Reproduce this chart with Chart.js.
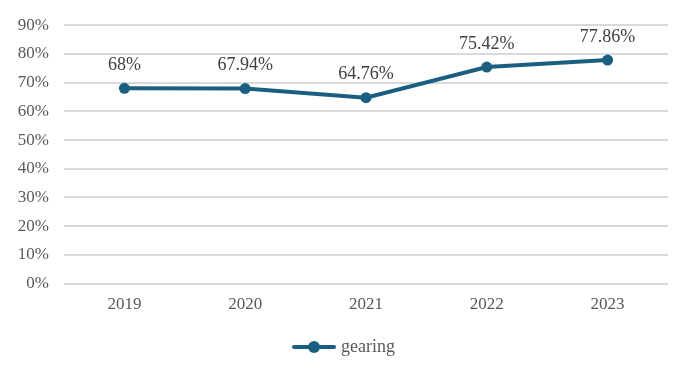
<!DOCTYPE html>
<html>
<head>
<meta charset="utf-8">
<script src="https://cdn.jsdelivr.net/npm/chart.js@4/dist/chart.umd.min.js"></script>
<style>
  html, body { margin: 0; padding: 0; background: #fff; }
  #wrap { width: 691px; height: 375px; }
</style>
</head>
<body>
<div id="wrap"><canvas id="gearingChart" width="691" height="375"></canvas></div>
<script>
var years = ['2019', '2020', '2021', '2022', '2023'];
var gearing = [68, 67.94, 64.76, 75.42, 77.86];
var gearingLabels = ['68%', '67.94%', '64.76%', '75.42%', '77.86%'];

var lineColor = '#1b5f80';
var font = '"Liberation Serif", "Times New Roman", serif';

// legend marker: line with dot
var marker = document.createElement('canvas');
marker.width = 44; marker.height = 14;
var mctx = marker.getContext('2d');
mctx.strokeStyle = lineColor;
mctx.lineWidth = 4;
mctx.lineCap = 'round';
mctx.beginPath(); mctx.moveTo(2, 7); mctx.lineTo(42, 7); mctx.stroke();
mctx.fillStyle = lineColor;
mctx.beginPath(); mctx.arc(22, 7, 6, 0, Math.PI * 2); mctx.fill();

var labelPlugin = {
    id: 'valueLabels',
    afterDatasetsDraw: function(chart) {
        var ctx = chart.ctx;
        var meta = chart.getDatasetMeta(0);
        ctx.save();
        ctx.font = '18px ' + font;
        ctx.fillStyle = '#404040';
        ctx.textAlign = 'center';
        ctx.textBaseline = 'middle';
        meta.data.forEach(function(pt, i) {
            ctx.fillText(gearingLabels[i], pt.x, pt.y - 23);
        });
        ctx.restore();
    }
};

var ctx = document.getElementById('gearingChart').getContext('2d');
var chart = new Chart(ctx, {
    type: 'line',
    data: {
        labels: years,
        datasets: [{
            label: 'gearing',
            data: gearing,
            borderColor: lineColor,
            backgroundColor: lineColor,
            borderWidth: 4,
            pointRadius: 5.5,
            pointHoverRadius: 5.5,
            pointBackgroundColor: lineColor,
            pointBorderWidth: 0,
            tension: 0
        }]
    },
    options: {
        responsive: false,
        animation: false,
        layout: { padding: { top: 20, right: 0, left: 0, bottom: 9 } },
        plugins: {
            legend: {
                position: 'bottom',
                labels: {
                    usePointStyle: true,
                    pointStyle: marker,
                    pointStyleWidth: 36,
                    color: '#595959',
                    font: { family: font, size: 18 },
                    padding: 12
                }
            },
            tooltip: { enabled: false }
        },
        scales: {
            x: {
                offset: true,
                grid: { display: false, drawTicks: false },
                border: { display: false },
                ticks: { color: '#595959', font: { family: font, size: 17 }, padding: 11, maxRotation: 0 }
            },
            y: {
                min: 0,
                max: 90,
                grid: { color: '#d9d9d9', lineWidth: 2, drawTicks: false },
                border: { display: false },
                afterFit: function(scale) { scale.width = 64; },
                ticks: {
                    stepSize: 10,
                    color: '#595959',
                    font: { family: font, size: 17 },
                    padding: 15,
                    callback: function(v) { return v + '%'; }
                }
            },
            // empty right margin
            yRight: {
                position: 'right',
                min: 0,
                max: 90,
                grid: { display: false, drawTicks: false },
                border: { display: false },
                ticks: { display: false },
                afterFit: function(scale) { scale.width = 23; }
            }
        }
    },
    plugins: [labelPlugin]
});
</script>
</body>
</html>
